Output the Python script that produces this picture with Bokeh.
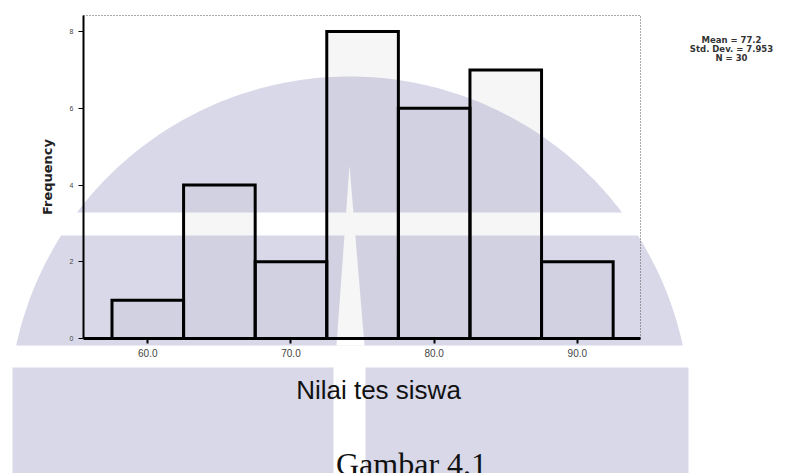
import numpy as np
from bokeh.plotting import figure
from bokeh.models import Range1d, FixedTicker, PrintfTickFormatter, LinearAxis
from bokeh.core.properties import value
from bokeh.embed import file_html
from bokeh.resources import INLINE

# Histogram data: bin centres, counts per bin, tick values
bin_centers = [60, 65, 70, 75, 80, 85, 90]
frequency = [1, 4, 2, 8, 6, 7, 2]
bin_width = 5
x_ticks = [60, 70, 80, 90]
y_ticks = [0, 2, 4, 6, 8]
x_title = "Nilai tes siswa"
y_title = "Frequency"
caption = "Gambar 4.1"

# Summary statistics shown beside the histogram
n = sum(frequency)
mean = sum(c * f for c, f in zip(bin_centers, frequency)) / n
sd = (sum(f * (c - mean) ** 2 for c, f in zip(bin_centers, frequency)) / (n - 1)) ** 0.5
stats_lines = [f"Mean = {mean:.1f}", f"Std. Dev. = {sd:.3f}", f"N = {n}"]

W, H = 785, 473
# histogram box on the page (pixels) and the data limits it spans
BL, BR, BT, BB = 83, 640, 15, 338
X0, X1 = 55.51, 94.41
Y0, Y1 = 0.0, 8.42
sx = (BR - BL) / (X1 - X0)
sy = (BB - BT) / (Y1 - Y0)

# The frame covers the whole page: main ranges are page pixels (y downwards),
# the histogram uses the "hx"/"hy" ranges laid over the same frame.
p = figure(width=W, height=H, output_backend="svg", toolbar_location=None,
           x_range=Range1d(0, W), y_range=Range1d(H, 0),
           x_axis_type=None, y_axis_type=None,
           min_border=0, min_border_left=0, min_border_right=0,
           min_border_top=0, min_border_bottom=0,
           background_fill_color="white", border_fill_color="white")
p.outline_line_color = None
p.grid.visible = False
p.extra_x_ranges = {"hx": Range1d(X0 - BL / sx, X1 + (W - BR) / sx)}
p.extra_y_ranges = {"hy": Range1d(Y0 - (H - BB) / sy, Y1 + BT / sy)}

# ---- background watermark: a dome over a block, cut by white bands ----
WM = "#d8d8e9"
CX, CY, R = 349.0, 417.0, 341.0
_t = np.linspace(0, 2 * np.pi, 361)[:-1]
DISC = list(zip(CX + R * np.cos(_t), CY + R * np.sin(_t)))


def _clip(poly, keep, cut):
    out = []
    for i in range(len(poly)):
        cur, prev = poly[i], poly[i - 1]
        if keep(cur):
            if not keep(prev):
                out.append(cut(prev, cur))
            out.append(cur)
        elif keep(prev):
            out.append(cut(prev, cur))
    return out


def _xcut(c):
    return lambda a, b: (c, a[1] + (b[1] - a[1]) * (c - a[0]) / (b[0] - a[0]))


def _ycut(c):
    return lambda a, b: (a[0] + (b[0] - a[0]) * (c - a[1]) / (b[1] - a[1]), c)


def disc_piece(x0, x1, y0, y1):
    poly = DISC
    poly = _clip(poly, lambda q: q[0] >= x0, _xcut(x0))
    poly = _clip(poly, lambda q: q[0] <= x1, _xcut(x1))
    poly = _clip(poly, lambda q: q[1] >= y0, _ycut(y0))
    poly = _clip(poly, lambda q: q[1] <= y1, _ycut(y1))
    return poly


def rect_piece(x0, x1, y0, y1):
    return [(x0, y0), (x1, y0), (x1, y1), (x0, y1)]


pieces = [disc_piece(0, W, 0, 212), disc_piece(0, W, 235, 345),
          rect_piece(12, 333, 367, H), rect_piece(365, 688, 367, H)]
p.patches(xs=[[q[0] for q in pc] for pc in pieces],
          ys=[[q[1] for q in pc] for pc in pieces],
          fill_color=WM, line_color=None, level="underlay")
# narrow white spike rising through the middle
p.patch(x=[349, 364, 336], y=[165, 345, 345], fill_color="white",
        line_color=None, level="underlay")

# dotted top and right edges of the histogram box
p.line(x=[BL, BR, BR], y=[BT, BT, BB], line_color="#555555",
       line_dash="1 2", line_width=1)

# ---- histogram bars ----
p.vbar(x=bin_centers, width=bin_width, top=frequency, bottom=0,
       x_range_name="hx", y_range_name="hy",
       fill_color="#7a7a7a", fill_alpha=0.07,
       line_color="black", line_width=3, line_join="miter")

# ---- axes, pinned to the histogram box ----
xa = LinearAxis(x_range_name="hx", y_range_name="hy", fixed_location=Y0,
                bounds=(X0, X1), ticker=FixedTicker(ticks=x_ticks),
                formatter=PrintfTickFormatter(format="%.1f"))
ya = LinearAxis(x_range_name="hx", y_range_name="hy", fixed_location=X0,
                bounds=(Y0, Y1), ticker=FixedTicker(ticks=y_ticks))
for ax in (xa, ya):
    ax.axis_line_color = "black"
    ax.major_tick_line_color = "black"
    ax.minor_tick_line_color = None
    ax.major_tick_in = 0
    ax.major_tick_out = 5
    ax.major_label_text_color = "#444444"
    ax.major_label_text_font = "Liberation Sans"

xa.axis_line_width = 3
xa.major_tick_line_width = 2
xa.major_label_text_font_size = "10px"
xa.major_label_standoff = 5

ya.axis_line_width = 2
ya.major_tick_line_width = 1
ya.major_label_text_font_size = "7px"
ya.major_label_standoff = 5
ya.axis_label = y_title
ya.axis_label_text_font = "DejaVu Sans"
ya.axis_label_text_font_style = "bold"
ya.axis_label_text_font_size = "13px"
ya.axis_label_text_color = "#222222"
ya.axis_label_standoff = 12

p.add_layout(xa, "below")
p.add_layout(ya, "left")

# ---- texts (page pixels) ----
p.text(x=[378], y=[389], text=[x_title], text_font=value("Liberation Sans"),
       text_font_size="26px", text_color="#111111",
       text_align="center", text_baseline="alphabetic")
p.text(x=[411], y=[463], text=[caption], text_font=value("Liberation Serif"),
       text_font_size="32px", text_color="#111111",
       text_align="center", text_baseline="alphabetic")
p.text(x=[731] * len(stats_lines), y=[39 + 9 * i for i in range(len(stats_lines))],
       text=stats_lines, text_font=value("DejaVu Sans"), text_font_style="bold",
       text_font_size="8.5px", text_color="#333333",
       text_align="center", text_baseline="middle")

open("out.html", "w").write(file_html(p, INLINE))
